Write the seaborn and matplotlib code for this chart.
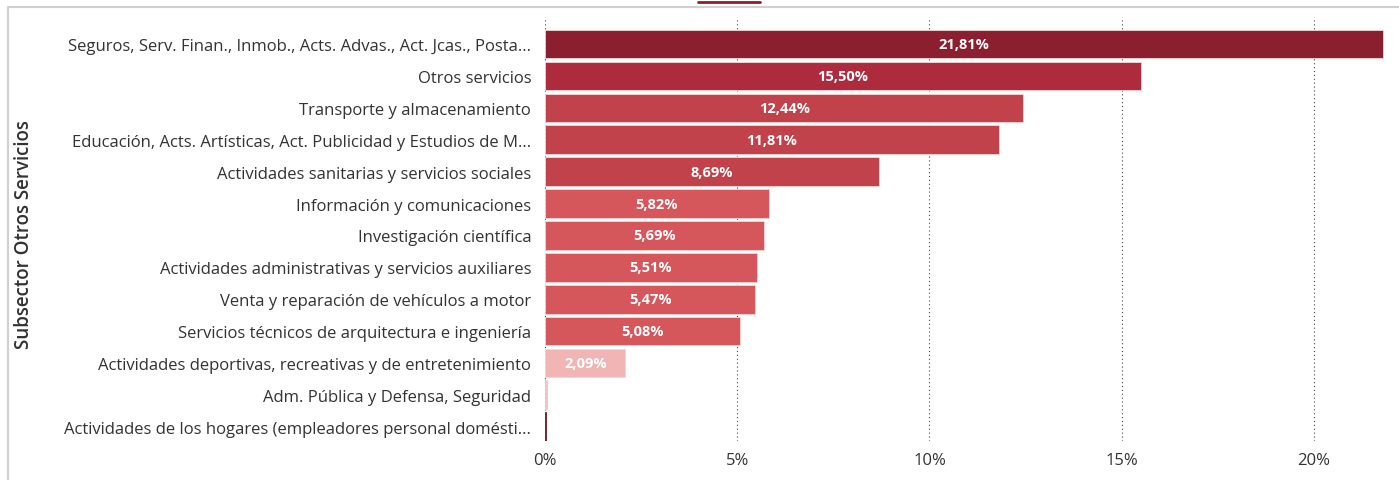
import matplotlib
matplotlib.use("Agg")
import matplotlib.pyplot as plt
import seaborn as sns
import pandas as pd
from matplotlib.lines import Line2D

categories = [
    "Seguros, Serv. Finan., Inmob., Acts. Advas., Act. Jcas., Posta...",
    "Otros servicios",
    "Transporte y almacenamiento",
    "Educación, Acts. Artísticas, Act. Publicidad y Estudios de M...",
    "Actividades sanitarias y servicios sociales",
    "Información y comunicaciones",
    "Investigación científica",
    "Actividades administrativas y servicios auxiliares",
    "Venta y reparación de vehículos a motor",
    "Servicios técnicos de arquitectura e ingeniería",
    "Actividades deportivas, recreativas y de entretenimiento",
    "Adm. Pública y Defensa, Seguridad",
    "Actividades de los hogares (empleadores personal domésti...",
]
values = [21.81, 15.50, 12.44, 11.81, 8.69, 5.82, 5.69, 5.51, 5.47, 5.08, 2.09, 0.05, 0.02]
labels = ["21,81%", "15,50%", "12,44%", "11,81%", "8,69%", "5,82%", "5,69%",
          "5,51%", "5,47%", "5,08%", "2,09%", "", ""]
colors = ["#8B1E2F", "#AE2B3E", "#C1424A", "#C1424A", "#C1424A", "#D5565B", "#D5565B",
          "#D5565B", "#D5565B", "#D5565B", "#F2B5B5", "#F5C4C4", "#6E1A28"]
xticks = [0, 5, 10, 15, 20]
xticklabels = ["0%", "5%", "10%", "15%", "20%"]

sns.set_style("white")
plt.rcParams["font.family"] = ["Open Sans", "DejaVu Sans"]

df = pd.DataFrame({"cat": categories, "val": values})
fig = plt.figure(figsize=(13.99, 4.81), dpi=100)
ax = fig.add_axes([0.3896, 0.081, 0.6004, 0.8815])

sns.barplot(data=df, x="val", y="cat", hue="cat", palette=colors, legend=False,
            orient="h", width=0.9, ax=ax, edgecolor="#F4D6D6", linewidth=0.6,
            saturation=1, zorder=3)
for p, v in zip(ax.patches, values):
    if v < 0.5:
        p.set_edgecolor(p.get_facecolor())

for i, (v, lab) in enumerate(zip(values, labels)):
    if lab:
        ax.text(v / 2, i, lab, ha="center", va="center", color="white",
                fontsize=10.5, fontweight="bold", zorder=4)

ax.set_xlim(0, 21.85)
ax.set_ylim(12.45, -0.85)
ax.set_xticks(xticks)
ax.set_xticklabels(xticklabels)
ax.xaxis.grid(True, linestyle=(0, (1, 2.5)), color="#444444", linewidth=0.8, zorder=0)
ax.yaxis.grid(False)
for s in ax.spines.values():
    s.set_visible(False)
ax.tick_params(axis="y", length=0, pad=10, labelsize=12, labelcolor="#333333")
ax.tick_params(axis="x", length=0, pad=8, labelsize=12, labelcolor="#333333")
ax.set_xlabel("")
ax.set_ylabel("Subsector Otros Servicios", fontsize=13.5, fontweight="semibold",
              color="#333333")
ax.yaxis.set_label_coords(-0.608, 0.49)

# frame lines of the surrounding visual
fig.add_artist(Line2D([8 / 1399, 8 / 1399], [0, 1 - 8 / 481], color="#D0D0D0",
                      linewidth=1.5, transform=fig.transFigure))
fig.add_artist(Line2D([8 / 1399, 1], [1 - 8 / 481, 1 - 8 / 481], color="#D0D0D0",
                      linewidth=1.5, transform=fig.transFigure))
fig.add_artist(Line2D([698 / 1399, 760 / 1399], [1 - 2.5 / 481, 1 - 2.5 / 481],
                      color="#8B1E2F", linewidth=2, transform=fig.transFigure))

fig.savefig("out.png", dpi=100)
